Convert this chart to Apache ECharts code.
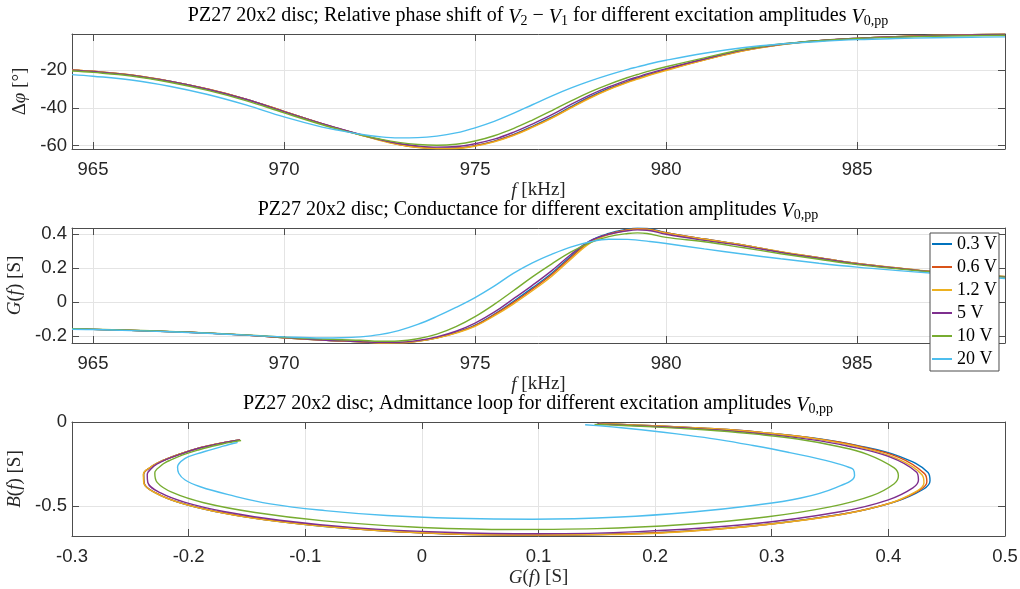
<!DOCTYPE html>
<html>
<head>
<meta charset="utf-8">
<title>PZ27 20x2 disc – amplitude dependence</title>
<script src="https://cdn.jsdelivr.net/npm/echarts@6.0.0/dist/echarts.min.js"></script>
<style>
  html, body { margin: 0; padding: 0; background: #ffffff; }
  #chart { width: 1020px; height: 589px; }
</style>
</head>
<body>
<div id="chart"></div>
<script>
// Excitation amplitudes (legend entries) and their line colours
const amplitudes = ['0.3 V', '0.6 V', '1.2 V', '5 V', '10 V', '20 V'];
const lineColors = ['#0072BD', '#D95319', '#EDB120', '#7E2F8E', '#77AC30', '#4DBEEE'];

// Sweep frequencies in kHz
const freq = [964.45, 965, 966, 967, 968, 969, 970, 971, 971.5, 972, 972.5, 973, 973.5, 974, 974.5,
  975, 975.5, 976, 976.5, 977, 977.5, 978, 978.5, 979, 979.25, 979.5, 980, 981, 982, 983, 984, 985,
  986, 987, 988, 988.87];

// Relative phase shift of V2 - V1 in degrees
const dphi_03 = [-20.1, -20.8, -22.8, -26.0, -30.2, -35.5, -42.0, -48.5, -51.5, -54.3, -57.0, -59.3, -60.8, -61.5, -61.3,
  -60.0, -57.6, -54.2, -49.8, -45.0, -39.5, -34.3, -29.8, -26.0, -24.3, -22.7, -19.8, -14.5, -9.8, -6.6, -4.6, -3.3,
  -2.4, -1.8, -1.4, -1.1];
const dphi_06 = [-20.0, -20.7, -22.7, -25.9, -30.1, -35.4, -41.9, -48.4, -51.4, -54.3, -57.0, -59.4, -60.9, -61.5, -61.4,
  -60.1, -57.8, -54.4, -50.1, -45.3, -39.9, -34.7, -30.1, -26.3, -24.6, -23.0, -20.0, -14.6, -9.9, -6.6, -4.6, -3.3,
  -2.4, -1.8, -1.4, -1.1];
const dphi_12 = [-20.0, -20.7, -22.7, -25.9, -30.1, -35.4, -41.9, -48.5, -51.5, -54.4, -57.2, -59.5, -61.0, -61.6, -61.5,
  -60.3, -58.0, -54.7, -50.4, -45.6, -40.2, -35.0, -30.4, -26.6, -24.9, -23.2, -20.3, -14.8, -10.0, -6.7, -4.6, -3.3,
  -2.4, -1.8, -1.4, -1.1];
const dphi_5 = [-20.1, -20.8, -22.8, -26.0, -30.2, -35.5, -42.0, -48.4, -51.3, -54.1, -56.8, -58.9, -60.2, -60.8, -60.5,
  -59.0, -56.6, -53.0, -48.6, -43.8, -38.4, -33.3, -29.0, -25.3, -23.7, -22.1, -19.3, -14.2, -9.5, -6.4, -4.5, -3.3,
  -2.5, -1.9, -1.5, -1.2];
const dphi_10 = [-20.6, -21.3, -23.2, -26.5, -30.8, -36.2, -42.7, -49.0, -51.8, -54.3, -56.5, -58.3, -59.4, -59.8, -59.3,
  -57.6, -54.8, -51.0, -46.5, -41.6, -36.5, -31.7, -27.6, -24.0, -22.4, -20.9, -18.3, -13.6, -9.2, -6.3, -4.5, -3.4,
  -2.7, -2.2, -1.9, -1.7];
const dphi_20 = [-22.5, -23.3, -25.3, -28.6, -33.0, -38.5, -44.8, -50.2, -52.2, -54.0, -55.3, -55.9, -55.8, -55.0, -53.3,
  -50.6, -47.2, -43.0, -38.4, -33.8, -29.6, -25.9, -22.6, -19.7, -18.4, -17.1, -14.9, -11.2, -8.3, -6.3, -5.0, -4.0,
  -3.4, -3.0, -2.7, -2.5];

// Conductance G(f) in S
const g_03 = [-0.156, -0.159, -0.165, -0.172, -0.181, -0.193, -0.208, -0.222, -0.2276, -0.232, -0.2386, -0.2381, -0.228, -0.208, -0.177,
  -0.134, -0.070, 0.005, 0.085, 0.170, 0.270, 0.360, 0.405, 0.430, 0.4357, 0.434, 0.410, 0.372, 0.337, 0.297, 0.262, 0.228,
  0.203, 0.180, 0.163, 0.151];
const g_06 = [-0.156, -0.159, -0.165, -0.172, -0.181, -0.193, -0.208, -0.222, -0.2276, -0.232, -0.2386, -0.2381, -0.228, -0.209, -0.179,
  -0.137, -0.074, -0.002, 0.077, 0.162, 0.262, 0.354, 0.402, 0.427, 0.433, 0.431, 0.409, 0.372, 0.337, 0.297, 0.262, 0.228,
  0.203, 0.180, 0.163, 0.151];
const g_12 = [-0.156, -0.159, -0.165, -0.172, -0.181, -0.193, -0.208, -0.222, -0.2276, -0.232, -0.2388, -0.2385, -0.229, -0.210, -0.181,
  -0.141, -0.080, -0.010, 0.068, 0.152, 0.252, 0.347, 0.398, 0.424, 0.4305, 0.429, 0.407, 0.371, 0.337, 0.298, 0.263, 0.229,
  0.204, 0.181, 0.164, 0.152];
const g_5 = [-0.156, -0.159, -0.165, -0.172, -0.181, -0.193, -0.207, -0.221, -0.2265, -0.231, -0.2355, -0.235, -0.224, -0.203, -0.170,
  -0.122, -0.058, 0.020, 0.100, 0.185, 0.280, 0.360, 0.400, 0.421, 0.4258, 0.424, 0.400, 0.364, 0.332, 0.293, 0.259, 0.226,
  0.201, 0.179, 0.162, 0.150];
const g_10 = [-0.155, -0.158, -0.164, -0.171, -0.180, -0.191, -0.205, -0.216, -0.220, -0.223, -0.229, -0.227, -0.214, -0.187, -0.143,
  -0.084, -0.012, 0.068, 0.150, 0.225, 0.295, 0.350, 0.386, 0.405, 0.4086, 0.405, 0.382, 0.356, 0.322, 0.286, 0.253, 0.222,
  0.198, 0.177, 0.160, 0.148];
const g_20 = [-0.158, -0.160, -0.166, -0.173, -0.182, -0.193, -0.203, -0.2095, -0.2085, -0.203, -0.190, -0.166, -0.130, -0.083, -0.030,
  0.028, 0.095, 0.170, 0.232, 0.282, 0.325, 0.355, 0.371, 0.370, 0.366, 0.360, 0.346, 0.314, 0.284, 0.256, 0.230, 0.207,
  0.188, 0.171, 0.155, 0.140];

// Susceptance B(f) in S
const b_03 = [-0.107, -0.110, -0.117, -0.126, -0.139, -0.159, -0.192, -0.229, -0.2475, -0.266, -0.312, -0.365, -0.423, -0.479, -0.532,
  -0.581, -0.629, -0.661, -0.673, -0.666, -0.627, -0.549, -0.477, -0.400, -0.350, -0.300, -0.206, -0.138, -0.097, -0.066, -0.045, -0.032,
  -0.024, -0.017, -0.012, -0.009];
const b_06 = [-0.107, -0.110, -0.117, -0.126, -0.139, -0.159, -0.192, -0.229, -0.2475, -0.266, -0.312, -0.365, -0.422, -0.477, -0.529,
  -0.578, -0.626, -0.659, -0.672, -0.668, -0.632, -0.556, -0.482, -0.405, -0.356, -0.307, -0.210, -0.140, -0.098, -0.066, -0.045, -0.032,
  -0.024, -0.017, -0.012, -0.009];
const b_12 = [-0.106, -0.109, -0.116, -0.125, -0.138, -0.158, -0.191, -0.228, -0.247, -0.265, -0.311, -0.363, -0.420, -0.475, -0.527,
  -0.576, -0.623, -0.656, -0.671, -0.670, -0.638, -0.565, -0.490, -0.412, -0.363, -0.315, -0.216, -0.143, -0.099, -0.067, -0.046, -0.033,
  -0.024, -0.017, -0.012, -0.009];
const b_5 = [-0.107, -0.110, -0.117, -0.126, -0.139, -0.159, -0.191, -0.228, -0.248, -0.270, -0.314, -0.360, -0.422, -0.478, -0.532,
  -0.584, -0.628, -0.656, -0.665, -0.652, -0.608, -0.532, -0.463, -0.392, -0.3456, -0.298, -0.205, -0.141, -0.103, -0.071, -0.050, -0.036,
  -0.027, -0.020, -0.015, -0.012];
const b_10 = [-0.110, -0.113, -0.121, -0.131, -0.145, -0.165, -0.196, -0.228, -0.2415, -0.256, -0.303, -0.359, -0.419, -0.480, -0.538,
  -0.588, -0.623, -0.639, -0.634, -0.610, -0.565, -0.505, -0.438, -0.367, -0.320, -0.273, -0.192, -0.144, -0.101, -0.072, -0.052, -0.038,
  -0.029, -0.022, -0.017, -0.014];
const b_20 = [-0.121, -0.125, -0.135, -0.149, -0.167, -0.190, -0.216, -0.268, -0.305, -0.345, -0.385, -0.432, -0.487, -0.527, -0.556,
  -0.572, -0.578, -0.565, -0.535, -0.498, -0.452, -0.390, -0.318, -0.283, -0.269, -0.255, -0.228, -0.180, -0.140, -0.106, -0.081, -0.061,
  -0.046, -0.034, -0.024, -0.016];

const phaseSets = [dphi_03, dphi_06, dphi_12, dphi_5, dphi_10, dphi_20];
const gSets = [g_03, g_06, g_12, g_5, g_10, g_20];
const bSets = [b_03, b_06, b_12, b_5, b_10, b_20];

const SERIF = '"Liberation Serif", "DejaVu Serif", serif';
const SANS = '"Liberation Sans", Arial, sans-serif';
const AXIS_COLOR = '#4d4d4d';
const GRID_COLOR = '#e4e4e4';
const TEXT_COLOR = '#262626';
const TICK_FONT = 18.5;
const NAME_FONT = 19;
const TITLE_FONT = 20;

// Plot boxes (pixel layout of the three stacked axes)
const boxes = [
  { left: 72, right: 15, top: 34, height: 115 },
  { left: 72, right: 15, top: 228, height: 115 },
  { left: 72, right: 15, top: 422, height: 114 }
];

const mathRich = {
  i: { fontFamily: SERIF, fontStyle: 'italic', fontSize: NAME_FONT, color: TEXT_COLOR }
};

const titleRich = {
  i: { fontFamily: SERIF, fontStyle: 'italic', fontSize: TITLE_FONT, lineHeight: 24, verticalAlign: 'bottom', color: '#000' },
  s: { fontFamily: SERIF, fontSize: 14, lineHeight: 13, verticalAlign: 'bottom', color: '#000' }
};

function makeTitle(text, top) {
  return {
    text: text,
    left: 538,
    top: top,
    textAlign: 'center',
    padding: 0,
    textStyle: { fontFamily: SERIF, fontSize: TITLE_FONT, fontWeight: 'normal', color: '#000', lineHeight: 24, rich: titleRich }
  };
}

function tickLabels(margin, hideMin, hideMax) {
  return {
    color: TEXT_COLOR, fontFamily: SANS, fontSize: TICK_FONT, margin: margin,
    showMinLabel: !hideMin, showMaxLabel: !hideMax
  };
}

// Bottom/left axis carrying labels, grid lines and the axis name
function mainAxis(gridIndex, position, range, extra) {
  return Object.assign({
    type: 'value',
    gridIndex: gridIndex,
    position: position,
    min: range[0],
    max: range[1],
    axisLine: { show: true, onZero: false, lineStyle: { color: AXIS_COLOR, width: 1 } },
    axisTick: { show: true, inside: true, length: 7, lineStyle: { color: AXIS_COLOR } },
    splitLine: { show: true, lineStyle: { color: GRID_COLOR, width: 1 } },
    nameLocation: 'middle',
    nameTextStyle: { fontFamily: SERIF, fontSize: NAME_FONT, color: TEXT_COLOR, rich: mathRich }
  }, extra);
}

// Top/right axis closing the box, ticks only
function mirrorAxis(gridIndex, position, range, splitNumber) {
  return {
    type: 'value',
    gridIndex: gridIndex,
    position: position,
    min: range[0],
    max: range[1],
    splitNumber: splitNumber,
    axisLine: { show: true, onZero: false, lineStyle: { color: AXIS_COLOR, width: 1 } },
    axisTick: { show: true, inside: true, length: 7, lineStyle: { color: AXIS_COLOR } },
    splitLine: { show: false },
    axisLabel: { show: false }
  };
}

const fRange = [964.45, 988.87];
const phaseRange = [-61.8, -1.0];
const gRange = [-0.239, 0.437];
const loopXRange = [-0.3, 0.5];
const loopYRange = [-0.678, 0];

const xAxes = [
  mainAxis(0, 'bottom', fRange, { splitNumber: 5, name: '{i|f} [kHz]', nameGap: 32, axisLabel: tickLabels(11, true, true) }),
  mirrorAxis(0, 'top', fRange, 5),
  mainAxis(1, 'bottom', fRange, { splitNumber: 5, name: '{i|f} [kHz]', nameGap: 32, axisLabel: tickLabels(11, true, true) }),
  mirrorAxis(1, 'top', fRange, 5),
  mainAxis(2, 'bottom', loopXRange, { splitNumber: 8, name: '{i|G}({i|f}) [S]', nameGap: 32, axisLabel: tickLabels(11, false, false) }),
  mirrorAxis(2, 'top', loopXRange, 8)
];

const yAxes = [
  mainAxis(0, 'left', phaseRange, { splitNumber: 3, name: '\u0394{i|\u03c6} [\u00b0]', nameGap: 35, axisLabel: tickLabels(5, true, true) }),
  mirrorAxis(0, 'right', phaseRange, 3),
  mainAxis(1, 'left', gRange, { splitNumber: 3, name: '{i|G}({i|f}) [S]', nameGap: 41, axisLabel: tickLabels(5, true, true) }),
  mirrorAxis(1, 'right', gRange, 3),
  mainAxis(2, 'left', loopYRange, { splitNumber: 1, name: '{i|B}({i|f}) [S]', nameGap: 41, axisLabel: tickLabels(5, true, false) }),
  mirrorAxis(2, 'right', loopYRange, 1)
];

const series = [];
amplitudes.forEach(function (name, k) {
  const common = {
    name: name,
    type: 'line',
    symbol: 'none',
    showSymbol: false,
    smooth: 0.4,
    clip: true,
    lineStyle: { width: 1.4, color: lineColors[k] },
    itemStyle: { color: lineColors[k] },
    emphasis: { disabled: true }
  };
  series.push(Object.assign({}, common, {
    xAxisIndex: 0, yAxisIndex: 0,
    data: freq.map(function (f, i) { return [f, phaseSets[k][i]]; })
  }));
  series.push(Object.assign({}, common, {
    xAxisIndex: 2, yAxisIndex: 2,
    data: freq.map(function (f, i) { return [f, gSets[k][i]]; })
  }));
  series.push(Object.assign({}, common, {
    xAxisIndex: 4, yAxisIndex: 4,
    data: freq.map(function (f, i) { return [gSets[k][i], bSets[k][i]]; })
  }));
});

const option = {
  backgroundColor: '#ffffff',
  animation: false,
  title: [
    makeTitle('PZ27 20x2 disc; Relative phase shift of {i|V}{s|2} \u2212 {i|V}{s|1} for different excitation amplitudes {i|V}{s|0,pp}', 4),
    makeTitle('PZ27 20x2 disc; Conductance for different excitation amplitudes {i|V}{s|0,pp}', 198),
    makeTitle('PZ27 20x2 disc; Admittance loop for different excitation amplitudes {i|V}{s|0,pp}', 392)
  ],
  legend: {
    data: amplitudes,
    orient: 'vertical',
    left: 930,
    top: 233,
    backgroundColor: '#ffffff',
    borderColor: AXIS_COLOR,
    borderWidth: 1,
    borderRadius: 0,
    padding: [1, 2, 2, 2],
    itemGap: 3,
    itemWidth: 20,
    itemHeight: 2,
    icon: 'rect',
    textStyle: { fontFamily: SERIF, fontSize: 18, color: '#000', lineHeight: 20 },
    z: 10
  },
  grid: boxes.map(function (b) {
    return Object.assign({ containLabel: false, outerBoundsMode: 'none', show: false }, b);
  }),
  xAxis: xAxes,
  yAxis: yAxes,
  series: series
};

const chart = echarts.init(document.getElementById('chart'), null, { renderer: 'canvas' });
chart.setOption(option);
</script>
</body>
</html>
